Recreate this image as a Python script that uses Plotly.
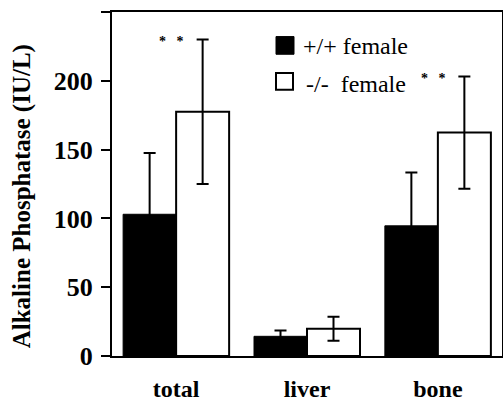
import plotly.graph_objects as go

# ---- data ----
categories = ["total", "liver", "bone"]
wt_values = [103.0, 14.3, 94.6]        # +/+ female
wt_errors = [44.5, 4.3, 38.8]
ko_values = [177.5, 19.8, 162.4]       # -/- female
ko_errors = [52.5, 8.7, 40.8]
significant = ["total", "bone"]
y_tickvals = [0, 50, 100, 150, 200, 250]
y_ticktext = ["0", "50", "100", "150", "200", ""]
series_names = ["+/+ female", "-/-  female"]

FONT = "Liberation Serif, Tinos, Times New Roman, DejaVu Serif, serif"
W, H = 503, 403
ML, MR, MT, MB = 112, 1, 12, 41
PW, PH = W - ML - MR, H - MT - MB


def px(x):
    return (x - ML) / PW


def py(y):
    return (H - MB - y) / PH


fig = go.Figure()
fig.add_trace(go.Bar(
    x=categories, y=wt_values, name=series_names[0],
    marker=dict(color="black", line=dict(color="black", width=1)),
    error_y=dict(type="data", array=wt_errors, visible=True,
                 color="black", thickness=2, width=6),
    showlegend=False,
))
fig.add_trace(go.Bar(
    x=categories, y=ko_values, name=series_names[1],
    marker=dict(color="white", line=dict(color="black", width=2)),
    error_y=dict(type="data", array=ko_errors, visible=True,
                 color="black", thickness=2, width=6),
    showlegend=False,
))

annotations = []
# significance asterisks at top of -/- error bars
for cat in significant:
    i = categories.index(cat)
    annotations.append(dict(
        x=i - 0.035, y=ko_values[i] + ko_errors[i], xref="x", yref="y",
        text="<b>*\u00a0\u00a0\u00a0*</b>", showarrow=False,
        font=dict(family=FONT, size=14, color="black"),
        xanchor="center", yanchor="middle", yshift=-2,
    ))

# y-axis title
annotations.append(dict(
    x=px(22), y=py(199.5), xref="paper", yref="paper",
    text="<b>Alkaline Phosphatase (IU/L)</b>", textangle=-90,
    showarrow=False, font=dict(family=FONT, size=25, color="black"),
    xanchor="center", yanchor="middle",
))

# legend (manual)
shapes = [
    dict(type="rect", xref="paper", yref="paper",
         x0=px(276), x1=px(294), y0=py(55), y1=py(37),
         fillcolor="black", line=dict(color="black", width=1)),
    dict(type="rect", xref="paper", yref="paper",
         x0=px(276), x1=px(293), y0=py(91), y1=py(74),
         fillcolor="white", line=dict(color="black", width=2)),
]
annotations.append(dict(
    x=px(301), y=py(47), xref="paper", yref="paper",
    text=series_names[0], showarrow=False,
    font=dict(family=FONT, size=24, color="black"),
    xanchor="left", yanchor="middle",
))
annotations.append(dict(
    x=px(304), y=py(85), xref="paper", yref="paper",
    text=series_names[1].replace("  ", "\u00a0\u00a0"), showarrow=False,
    font=dict(family=FONT, size=24, color="black"),
    xanchor="left", yanchor="middle",
))

fig.update_layout(
    width=W, height=H,
    margin=dict(l=ML, r=MR, t=MT, b=MB, pad=0),
    paper_bgcolor="white", plot_bgcolor="white",
    barmode="group", bargap=0.19, bargroupgap=0,
    font=dict(family=FONT, color="black"),
    annotations=annotations, shapes=shapes,
    showlegend=False,
    xaxis=dict(
        type="category", categoryorder="array", categoryarray=categories,
        range=[-0.49, 2.49], showline=True, linecolor="black", linewidth=2,
        mirror=True, ticks="", showgrid=False, zeroline=False,
        tickfont=dict(family=FONT, size=24, color="black"),
        tickprefix="<b>", ticksuffix="</b>", ticklabelstandoff=10,
    ),
    yaxis=dict(
        range=[0, 250], tickmode="array", tickvals=y_tickvals,
        ticktext=[f"<b>{t}</b>" if t else "" for t in y_ticktext],
        showline=True, linecolor="black", linewidth=2, mirror=True,
        ticks="outside", ticklen=9, tickwidth=2, tickcolor="black",
        showgrid=False, zeroline=False, automargin=False,
        tickfont=dict(family=FONT, size=26, color="black"), ticklabelstandoff=3,
    ),
)

fig.write_html(
    "out.html",
    config={"displayModeBar": False},
    post_script="document.body.style.margin='0';document.body.style.padding='0';",
)
